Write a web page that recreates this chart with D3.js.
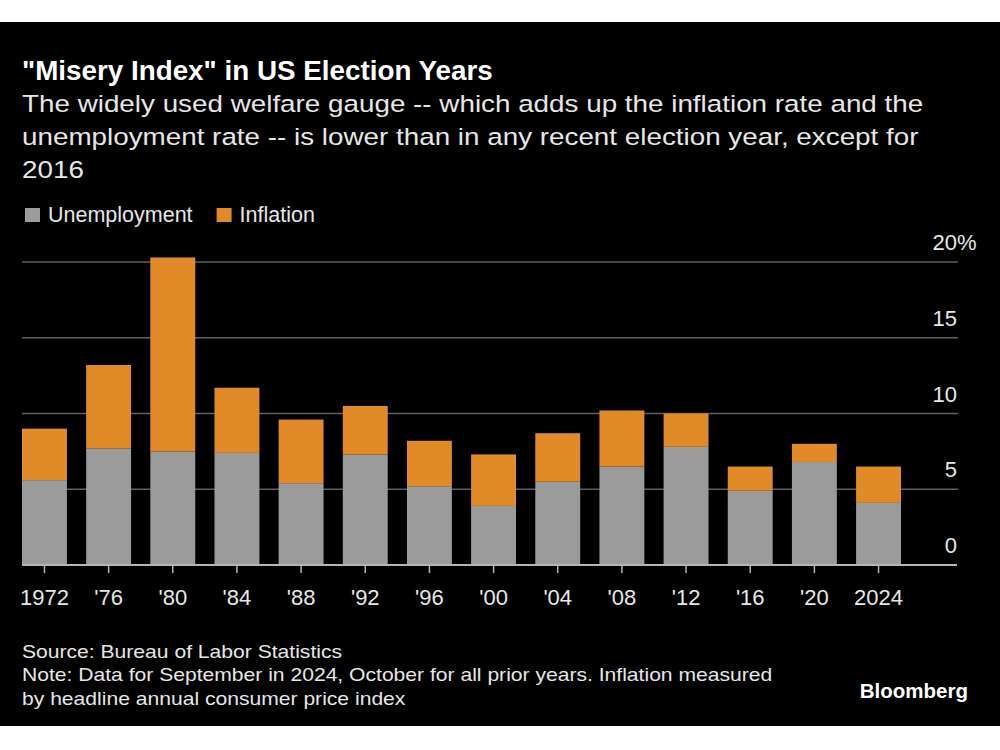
<!DOCTYPE html>
<html>
<head>
<meta charset="utf-8">
<script src="https://cdn.jsdelivr.net/npm/d3@7"></script>
<style>
  html, body { margin: 0; padding: 0; background: #ffffff; }
  svg { display: block; }
  text { font-family: "Liberation Sans", Arial, Helvetica, sans-serif; }
</style>
</head>
<body>
<svg id="chart" width="1000" height="750"></svg>
<script>
// ---- Data ----
const years = ["1972", "'76", "'80", "'84", "'88", "'92", "'96", "'00", "'04", "'08", "'12", "'16", "'20", "2024"];
const unemployment = [5.6, 7.7, 7.5, 7.4, 5.4, 7.3, 5.2, 3.9, 5.5, 6.5, 7.8, 4.9, 6.8, 4.1];
const inflation    = [3.4, 5.5, 12.8, 4.3, 4.2, 3.2, 3.0, 3.4, 3.2, 3.7, 2.2, 1.6, 1.2, 2.4];
const yTicks = [0, 5, 10, 15, 20];
const seriesNames = ["Unemployment", "Inflation"];
const seriesColors = ["#9b9b9b", "#e08b27"];

const titleText = "\"Misery Index\" in US Election Years";
const subtitleLines = [
  "The widely used welfare gauge -- which adds up the inflation rate and the",
  "unemployment rate -- is lower than in any recent election year, except for",
  "2016"
];
const footerLines = [
  "Source: Bureau of Labor Statistics",
  "Note: Data for September in 2024, October for all prior years. Inflation measured",
  "by headline annual consumer price index"
];

// ---- Build ----
const svg = d3.select("#chart");
svg.append("rect").attr("x", 0).attr("y", 22).attr("width", 1000).attr("height", 704).attr("fill", "#000");

const table = years.map((y, i) => ({ year: y, Unemployment: unemployment[i], Inflation: inflation[i] }));
const stacked = d3.stack().keys(seriesNames)(table);

const x = d3.scaleBand().domain(years).range([22, 901]).paddingInner(0.3).paddingOuter(0);
const y = d3.scaleLinear().domain([0, 20]).range([565, 262]);
const color = d3.scaleOrdinal().domain(seriesNames).range(seriesColors);

// widen text to the wider reference typeface
function fitWidth(sel, factor) {
  sel.each(function() {
    const w = this.getComputedTextLength();
    d3.select(this).attr("textLength", w * factor).attr("lengthAdjust", "spacingAndGlyphs");
  });
}

// Title / subtitle
svg.append("text").attr("x", 22).attr("y", 80).attr("fill", "#ffffff")
  .attr("font-size", 27.8).attr("font-weight", "bold").text(titleText);
const sub = svg.append("g").selectAll("text").data(subtitleLines).join("text")
  .attr("x", 22).attr("y", (d, i) => 112 + i * 33)
  .attr("fill", "#e6e6e6").attr("font-size", 24.5).text(d => d);
fitWidth(sub, 1.135);

// Legend
const legend = svg.append("g");
let lx = 25;
seriesNames.forEach((name, i) => {
  legend.append("rect").attr("x", lx).attr("y", 208).attr("width", 15).attr("height", 14).attr("fill", seriesColors[i]);
  const t = legend.append("text").attr("x", lx + 23).attr("y", 222).attr("fill", "#e6e6e6")
    .attr("font-size", 21.5).text(name);
  lx = lx + 23 + t.node().getComputedTextLength() + 24;
});

// Gridlines + y labels
const grid = svg.append("g");
grid.selectAll("line").data(yTicks.filter(d => d > 0)).join("line")
  .attr("x1", 22).attr("x2", 958).attr("y1", d => y(d)).attr("y2", d => y(d))
  .attr("stroke", "#5f5f5f").attr("stroke-width", 1.3);
grid.selectAll("text").data(yTicks).join("text")
  .attr("x", 957).attr("y", d => y(d) - 12).attr("text-anchor", "end")
  .attr("fill", "#e6e6e6").attr("font-size", 22)
  .each(function(d) {
    const t = d3.select(this);
    t.append("tspan").text(d);
    if (d === 20) t.append("tspan").text("%");
  });
grid.selectAll("text").filter(d => d === 20).attr("text-anchor", "start")
  .attr("x", function() { return 957 - this.querySelector("tspan").getComputedTextLength(); });

// Bars
svg.append("g").selectAll("g").data(stacked).join("g")
  .attr("fill", d => color(d.key))
  .selectAll("rect").data(d => d).join("rect")
  .attr("x", d => x(d.data.year)).attr("width", x.bandwidth())
  .attr("y", d => y(d[1])).attr("height", d => y(d[0]) - y(d[1]));

// Baseline
svg.append("line").attr("x1", 22).attr("x2", 957).attr("y1", y(0)).attr("y2", y(0))
  .attr("stroke", "#b4b4b4").attr("stroke-width", 2);

// X axis
const xAxis = d3.axisBottom(x).tickSize(8).tickPadding(18);
const gx = svg.append("g").attr("transform", `translate(0,${y(0)})`).call(xAxis);
gx.select(".domain").remove();
gx.selectAll(".tick line").attr("stroke", "#b4b4b4").attr("stroke-width", 1.5);
gx.selectAll(".tick text").attr("fill", "#e6e6e6").attr("font-size", 22)
  .attr("font-family", "Liberation Sans, Arial, sans-serif").attr("dy", null).attr("y", 40);

// Footer
const foot = svg.append("g").selectAll("text").data(footerLines).join("text")
  .attr("x", 22).attr("y", (d, i) => 658 + i * 23.3)
  .attr("fill", "#e6e6e6").attr("font-size", 19).text(d => d);
fitWidth(foot, 1.11);
svg.append("text").attr("x", 968).attr("y", 698).attr("text-anchor", "end")
  .attr("fill", "#ffffff").attr("font-size", 20.5).attr("font-weight", "bold").text("Bloomberg");
</script>
</body>
</html>
